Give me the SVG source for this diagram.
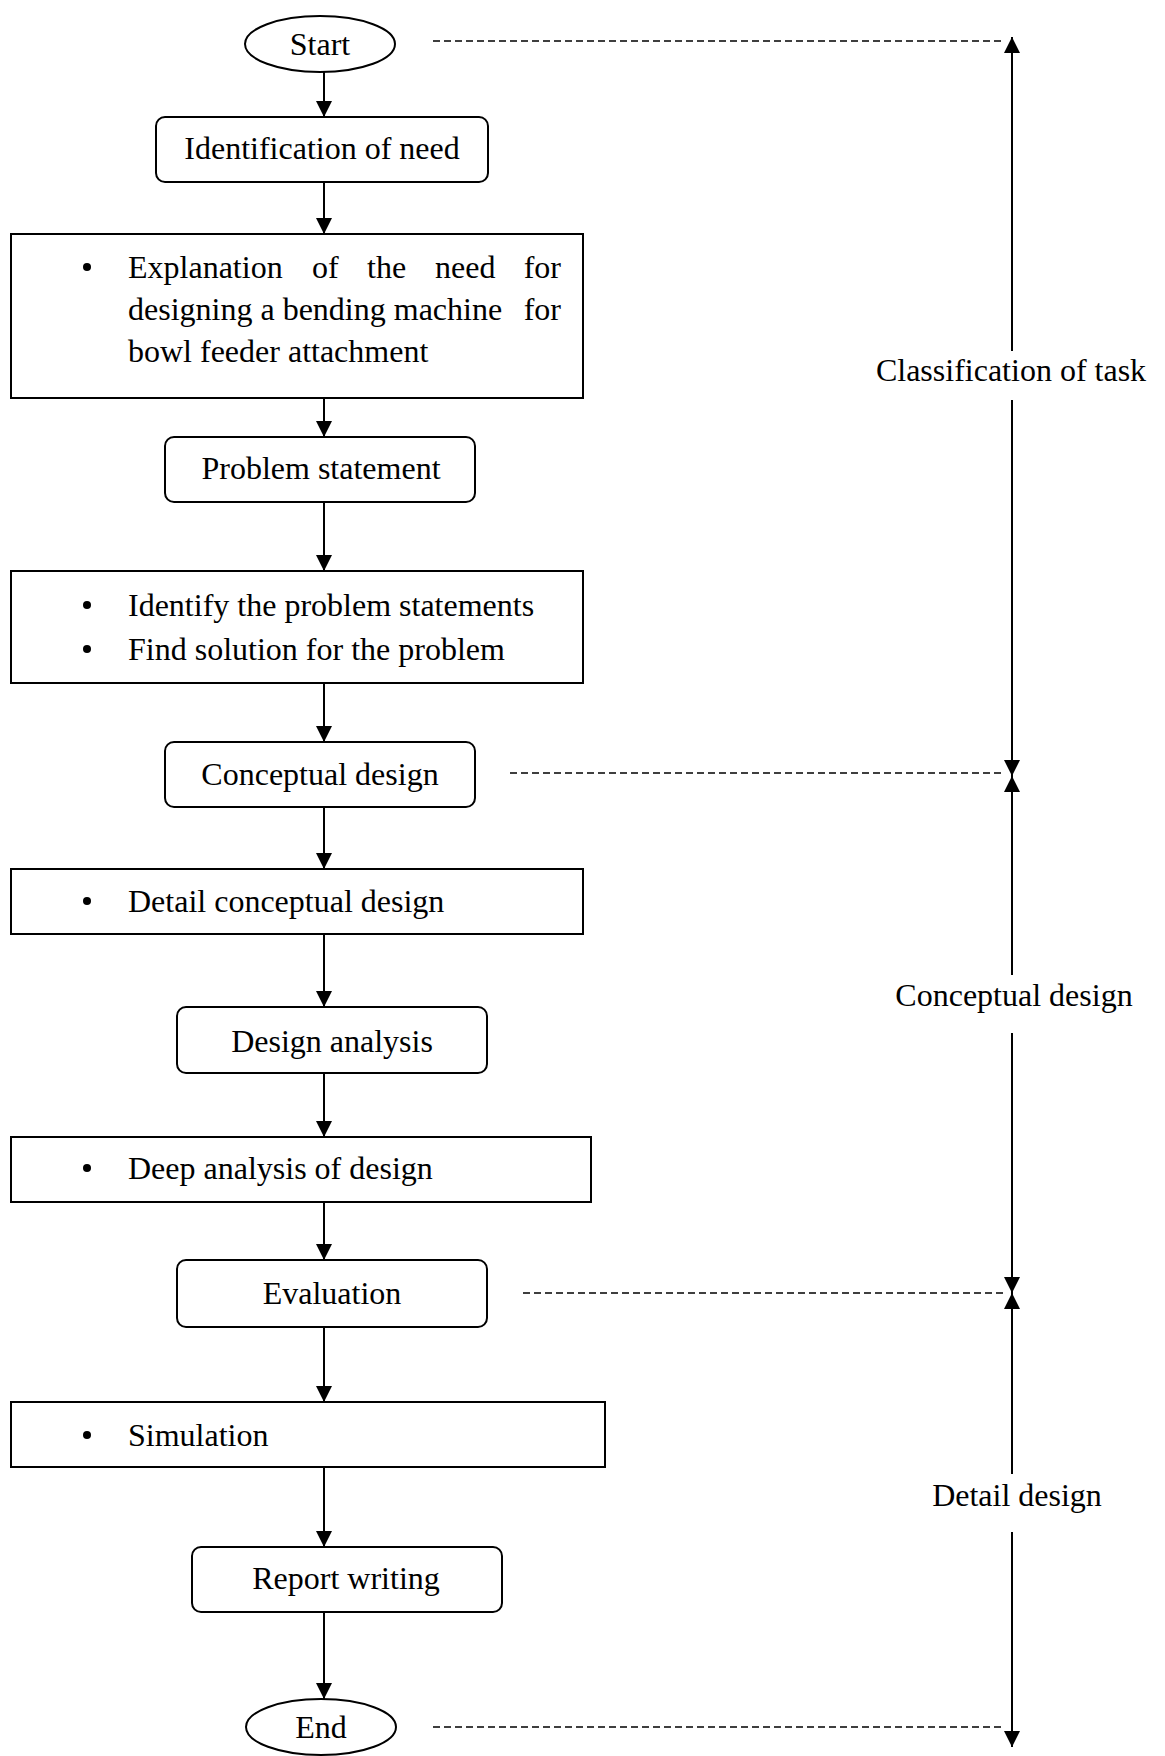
<svg xmlns="http://www.w3.org/2000/svg" width="1165" height="1756" viewBox="0 0 1165 1756">
<style>
.box{fill:#fff;stroke:#000;stroke-width:2}
.t{font-family:"Liberation Serif","Times New Roman",serif;font-size:32px;fill:#000}
.c{text-anchor:middle}
.e{text-anchor:end}
.ln{stroke:#000;stroke-width:2;fill:none}
.ds{stroke:#000;stroke-width:1.5;stroke-dasharray:7 4;fill:none}
</style>
<defs>
<marker id="ah" markerUnits="userSpaceOnUse" markerWidth="16" markerHeight="16" viewBox="0 0 16 16" refX="16" refY="8" orient="auto">
<path d="M0,0 L16,8 L0,16 Z" fill="#000"/>
</marker>
</defs>
<rect width="1165" height="1756" fill="#fff"/>

<g id="start"><ellipse class="box" cx="320" cy="44" rx="75" ry="28"/><text class="t c" x="320" y="55">Start</text></g>
<g id="identification"><rect class="box" x="156" y="117" width="332" height="65" rx="9"/><text class="t c" x="322" y="159">Identification of need</text></g>
<g id="explanation"><rect class="box" x="11" y="234" width="572" height="164"/>
<circle cx="87" cy="267" r="4"/>
<text class="t" y="278"><tspan x="128">Explanation</tspan><tspan x="312">of</tspan><tspan x="367">the</tspan><tspan x="435">need</tspan></text><text class="t e" x="561" y="278">for</text>
<text class="t" x="128" y="320">designing a bending machine</text><text class="t e" x="561" y="320">for</text>
<text class="t" x="128" y="362">bowl feeder attachment</text></g>
<g id="problem"><rect class="box" x="165" y="437" width="310" height="65" rx="9"/><text class="t c" x="321" y="479">Problem statement</text></g>
<g id="identify"><rect class="box" x="11" y="571" width="572" height="112"/>
<circle cx="87" cy="605" r="4"/><text class="t" x="128" y="616">Identify the problem statements</text>
<circle cx="87" cy="649" r="4"/><text class="t" x="128" y="660">Find solution for the problem</text></g>
<g id="conceptual"><rect class="box" x="165" y="742" width="310" height="65" rx="9"/><text class="t c" x="320" y="785">Conceptual design</text></g>
<g id="detail-conceptual"><rect class="box" x="11" y="869" width="572" height="65"/>
<circle cx="87" cy="901" r="4"/><text class="t" x="128" y="912">Detail conceptual design</text></g>
<g id="design-analysis"><rect class="box" x="177" y="1007" width="310" height="66" rx="9"/><text class="t c" x="332" y="1052">Design analysis</text></g>
<g id="deep-analysis"><rect class="box" x="11" y="1137" width="580" height="65"/>
<circle cx="87" cy="1168" r="4"/><text class="t" x="128" y="1179">Deep analysis of design</text></g>
<g id="evaluation"><rect class="box" x="177" y="1260" width="310" height="67" rx="9"/><text class="t c" x="332" y="1304">Evaluation</text></g>
<g id="simulation"><rect class="box" x="11" y="1402" width="594" height="65"/>
<circle cx="87" cy="1435" r="4"/><text class="t" x="128" y="1446">Simulation</text></g>
<g id="report"><rect class="box" x="192" y="1547" width="310" height="65" rx="9"/><text class="t c" x="346" y="1589">Report writing</text></g>
<g id="end"><ellipse class="box" cx="321" cy="1727" rx="75" ry="28"/><text class="t c" x="321" y="1738">End</text></g>

<g id="labels">
<text class="t c" x="1011" y="381">Classification of task</text>
<text class="t c" x="1014" y="1006">Conceptual design</text>
<text class="t c" x="1017" y="1506">Detail design</text>
</g>

<g id="connectors">
<line class="ln" x1="324" y1="72" x2="324" y2="117" marker-end="url(#ah)"/>
<line class="ln" x1="324" y1="182" x2="324" y2="234" marker-end="url(#ah)"/>
<line class="ln" x1="324" y1="398" x2="324" y2="437" marker-end="url(#ah)"/>
<line class="ln" x1="324" y1="502" x2="324" y2="571" marker-end="url(#ah)"/>
<line class="ln" x1="324" y1="683" x2="324" y2="742" marker-end="url(#ah)"/>
<line class="ln" x1="324" y1="807" x2="324" y2="869" marker-end="url(#ah)"/>
<line class="ln" x1="324" y1="934" x2="324" y2="1007" marker-end="url(#ah)"/>
<line class="ln" x1="324" y1="1073" x2="324" y2="1137" marker-end="url(#ah)"/>
<line class="ln" x1="324" y1="1202" x2="324" y2="1260" marker-end="url(#ah)"/>
<line class="ln" x1="324" y1="1327" x2="324" y2="1402" marker-end="url(#ah)"/>
<line class="ln" x1="324" y1="1467" x2="324" y2="1547" marker-end="url(#ah)"/>
<line class="ln" x1="324" y1="1612" x2="324" y2="1699" marker-end="url(#ah)"/>

<line class="ds" x1="433" y1="41" x2="1005" y2="41"/>
<line class="ds" x1="510" y1="773" x2="1005" y2="773"/>
<line class="ds" x1="523" y1="1293" x2="1005" y2="1293"/>
<line class="ds" x1="433" y1="1727" x2="1005" y2="1727"/>

<line class="ln" x1="1012" y1="351" x2="1012" y2="37" marker-end="url(#ah)"/>
<line class="ln" x1="1012" y1="400" x2="1012" y2="776" marker-end="url(#ah)"/>
<line class="ln" x1="1012" y1="975" x2="1012" y2="776" marker-end="url(#ah)"/>
<line class="ln" x1="1012" y1="1033" x2="1012" y2="1293" marker-end="url(#ah)"/>
<line class="ln" x1="1012" y1="1474" x2="1012" y2="1293" marker-end="url(#ah)"/>
<line class="ln" x1="1012" y1="1532" x2="1012" y2="1747" marker-end="url(#ah)"/>
</g>
</svg>
